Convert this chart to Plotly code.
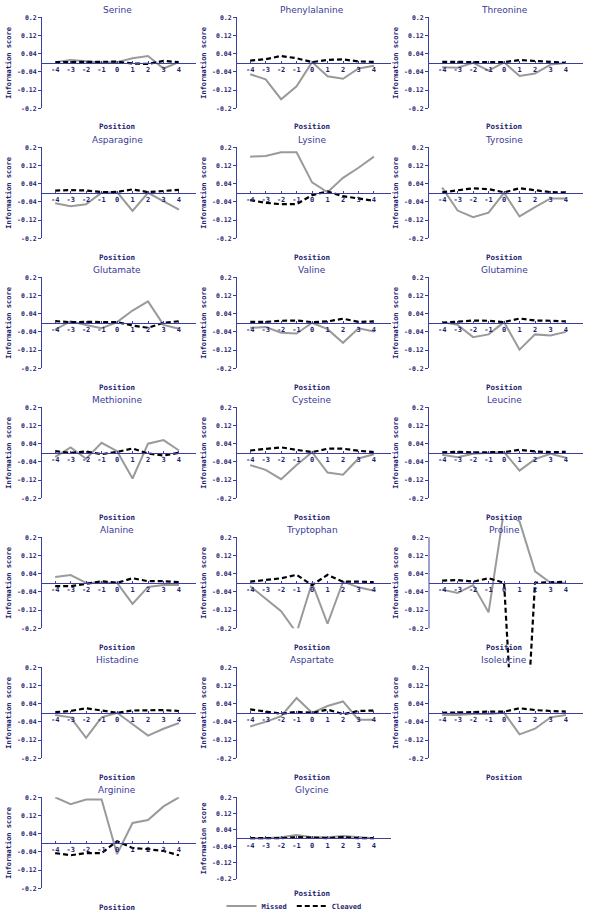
import plotly.graph_objects as go

W, H = 593, 915
positions = [-4, -3, -2, -1, 0, 1, 2, 3, 4]
y_tick_vals = [0.2, 0.12, 0.04, -0.04, -0.12, -0.2]
y_tick_text = ["0.2", "0.12", "0.04", "-0.04", "-0.12", "-0.2"]
x_tick_text = ["-4", "-3", "-2", "-1", "0", "1", "2", "3", "4"]

serine_missed = [0.003, 0.012, 0.007, 0.0, 0.003, 0.02, 0.03, -0.025, 0.003]
serine_cleaved = [0.003, 0.003, 0.002, 0.002, 0.005, -0.003, -0.005, 0.008, 0.003]
phenylalanine_missed = [-0.05, -0.073, -0.16, -0.103, 0.003, -0.059, -0.07, -0.025, -0.013]
phenylalanine_cleaved = [0.01, 0.016, 0.03, 0.02, 0.003, 0.013, 0.015, 0.006, 0.004]
threonine_missed = [-0.02, -0.022, 0.0, -0.034, 0.002, -0.058, -0.047, -0.008, -0.001]
threonine_cleaved = [0.004, 0.004, 0.003, 0.006, 0.003, 0.012, 0.009, 0.004, 0.0]
asparagine_missed = [-0.046, -0.059, -0.05, 0.0, 0.003, -0.08, 0.0, -0.037, -0.074]
asparagine_cleaved = [0.01, 0.012, 0.01, 0.003, 0.004, 0.015, 0.003, 0.007, 0.013]
lysine_missed = [0.159, 0.162, 0.178, 0.178, 0.046, 0.002, 0.066, 0.11, 0.159]
lysine_cleaved = [-0.032, -0.044, -0.05, -0.05, -0.01, 0.006, -0.015, -0.026, -0.035]
tyrosine_missed = [0.023, -0.078, -0.107, -0.087, 0.0, -0.104, -0.063, -0.025, -0.025]
tyrosine_cleaved = [0.002, 0.012, 0.02, 0.016, 0.002, 0.02, 0.012, 0.003, 0.002]
glutamate_missed = [-0.03, 0.007, -0.01, -0.024, 0.003, 0.054, 0.094, -0.009, -0.026]
glutamate_cleaved = [0.007, 0.003, 0.004, 0.004, 0.003, -0.012, -0.022, 0.0, 0.007]
valine_missed = [-0.022, -0.019, -0.044, -0.047, 0.0, -0.028, -0.088, -0.024, -0.038]
valine_cleaved = [0.004, 0.004, 0.009, 0.01, 0.003, 0.006, 0.018, 0.004, 0.006]
glutamine_missed = [0.003, -0.009, -0.063, -0.051, 0.003, -0.118, -0.051, -0.056, -0.04]
glutamine_cleaved = [0.0, 0.004, 0.01, 0.009, 0.003, 0.019, 0.01, 0.009, 0.006]
methionine_missed = [-0.018, 0.024, -0.026, 0.044, 0.007, -0.113, 0.04, 0.056, 0.01]
methionine_cleaved = [0.007, 0.0, 0.006, -0.006, 0.004, 0.019, -0.003, -0.012, 0.0]
cysteine_missed = [-0.054, -0.075, -0.116, -0.054, 0.003, -0.087, -0.096, -0.025, -0.006]
cysteine_cleaved = [0.01, 0.016, 0.024, 0.013, 0.003, 0.018, 0.018, 0.009, 0.003]
leucine_missed = [-0.009, -0.019, -0.004, -0.001, 0.003, -0.078, -0.028, -0.004, -0.022]
leucine_cleaved = [0.002, 0.004, 0.002, 0.002, 0.003, 0.013, 0.006, 0.003, 0.004]
alanine_missed = [0.025, 0.034, 0.0, 0.0, 0.0, -0.093, -0.018, -0.01, -0.01]
alanine_cleaved = [-0.015, -0.015, -0.005, 0.007, 0.0, 0.02, 0.007, 0.007, 0.003]
tryptophan_missed = [-0.015, -0.07, -0.125, -0.22, 0.0, -0.18, 0.005, -0.02, -0.035]
tryptophan_cleaved = [0.005, 0.012, 0.02, 0.035, -0.01, 0.035, 0.005, 0.005, 0.003]
proline_missed = [-0.03, -0.045, -0.01, -0.13, 0.32, 0.27, 0.05, 0.0, 0.0]
proline_cleaved = [0.01, 0.012, 0.005, 0.02, 0.0, -1.2, 0.0, 0.003, 0.005]
histadine_missed = [-0.01, -0.02, -0.11, -0.02, 0.0, -0.05, -0.1, -0.07, -0.045]
histadine_cleaved = [0.003, 0.008, 0.02, 0.01, 0.0, 0.01, 0.012, 0.012, 0.008]
aspartate_missed = [-0.06, -0.04, -0.015, 0.065, 0.0, 0.03, 0.05, -0.03, -0.03]
aspartate_cleaved = [0.015, 0.006, -0.004, 0.004, 0.0, 0.014, -0.006, 0.008, 0.01]
isoleucine_missed = [-0.01, -0.01, -0.005, -0.005, 0.0, -0.095, -0.07, -0.02, -0.01]
isoleucine_cleaved = [0.0, 0.003, 0.003, 0.005, 0.005, 0.02, 0.012, 0.008, 0.005]
arginine_missed = [0.2, 0.17, 0.19, 0.19, -0.05, 0.087, 0.1, 0.16, 0.2]
arginine_cleaved = [-0.045, -0.055, -0.045, -0.045, 0.007, -0.023, -0.028, -0.036, -0.055]
glycine_missed = [0.0, 0.0, 0.005, 0.015, 0.005, 0.005, 0.01, 0.005, 0.0]
glycine_cleaved = [0.0, 0.0, 0.0, 0.005, 0.003, 0.0, 0.005, 0.0, 0.0]

panels = [
    ("Serine", serine_missed, serine_cleaved),
    ("Phenylalanine", phenylalanine_missed, phenylalanine_cleaved),
    ("Threonine", threonine_missed, threonine_cleaved),
    ("Asparagine", asparagine_missed, asparagine_cleaved),
    ("Lysine", lysine_missed, lysine_cleaved),
    ("Tyrosine", tyrosine_missed, tyrosine_cleaved),
    ("Glutamate", glutamate_missed, glutamate_cleaved),
    ("Valine", valine_missed, valine_cleaved),
    ("Glutamine", glutamine_missed, glutamine_cleaved),
    ("Methionine", methionine_missed, methionine_cleaved),
    ("Cysteine", cysteine_missed, cysteine_cleaved),
    ("Leucine", leucine_missed, leucine_cleaved),
    ("Alanine", alanine_missed, alanine_cleaved),
    ("Tryptophan", tryptophan_missed, tryptophan_cleaved),
    ("Proline", proline_missed, proline_cleaved),
    ("Histadine", histadine_missed, histadine_cleaved),
    ("Aspartate", aspartate_missed, aspartate_cleaved),
    ("Isoleucine", isoleucine_missed, isoleucine_cleaved),
    ("Arginine", arginine_missed, arginine_cleaved),
    ("Glycine", glycine_missed, glycine_cleaved),
]

AXIS_COLOR = "#3e3ea0"
LABEL_COLOR = "#1e1e6e"
TITLE_COLOR = "#3a3a98"
MONO = "DejaVu Sans Mono"
SANS = "DejaVu Sans"
MISSED_COLOR = "#9a9a9a"
CLEAVED_COLOR = "#000000"

X_RANGE = [-4.85, 5.1]
col_left = [42, 237, 429]
plot_w = 154

fig = go.Figure()
layout = {}
annotations = []
shapes = []


def px_x(p):
    return p / W


def px_y(p):
    return 1 - p / H


for i, (name, missed, cleaved) in enumerate(panels):
    r, c = divmod(i, 3)
    n = i + 1
    sfx = "" if n == 1 else str(n)
    top = 17.3 + 130 * r
    bot = 108.3 + 130 * r
    pos_label_y = 127 + 130 * r
    if name == "Glycine":
        bot = 879.0
        pos_label_y = 893
    zero_py = (top + bot) / 2
    left = col_left[c]
    right = left + plot_w

    y_dom_top, y_dom_bot = top, bot
    y_range = [-0.2, 0.2]
    show_yline = True
    if name == "Proline":
        # taller box so the extreme values spill past the axis, as in the original
        scale = (bot - top) / 0.4
        y_dom_top, y_dom_bot = 520.0, 680.0
        y_range = [-0.2 - (y_dom_bot - bot) / scale, 0.2 + (top - y_dom_top) / scale]
        show_yline = False
        shapes.append(dict(type="line", xref="paper", yref="y" + sfx,
                           x0=px_x(left), x1=px_x(left), y0=-0.2, y1=0.2,
                           line=dict(color=AXIS_COLOR, width=1)))

    layout["xaxis" + sfx] = dict(
        domain=[px_x(left), px_x(right)], range=X_RANGE, anchor="free",
        position=px_y(zero_py), showline=True, linecolor=AXIS_COLOR, linewidth=1,
        tickmode="array", tickvals=positions, ticktext=x_tick_text,
        ticks="inside", ticklen=2, tickcolor=AXIS_COLOR,
        tickfont=dict(family=MONO, size=7, color=LABEL_COLOR, weight="bold"),
        showgrid=False, zeroline=False, fixedrange=True,
    )
    layout["yaxis" + sfx] = dict(
        domain=[px_y(y_dom_bot), px_y(y_dom_top)], range=y_range, anchor="x" + sfx,
        showline=show_yline, linecolor=AXIS_COLOR, linewidth=1,
        tickmode="array", tickvals=y_tick_vals, ticktext=y_tick_text,
        ticks="outside", ticklen=3, tickcolor=AXIS_COLOR,
        tickfont=dict(family=MONO, size=6.5, color=LABEL_COLOR, weight="bold"),
        showgrid=False, zeroline=False, fixedrange=True,
    )

    xa, ya = "x" + sfx, "y" + sfx
    fig.add_trace(go.Scatter(
        x=positions, y=missed, mode="lines", name="Missed",
        line=dict(color=MISSED_COLOR, width=2), xaxis=xa, yaxis=ya,
        showlegend=(i == 0), legendgroup="missed", hoverinfo="skip"))
    fig.add_trace(go.Scatter(
        x=positions, y=cleaved, mode="lines", name="Cleaved",
        line=dict(color=CLEAVED_COLOR, width=2.2, dash="5px,3px"), xaxis=xa, yaxis=ya,
        showlegend=(i == 0), legendgroup="cleaved", hoverinfo="skip"))

    annotations.append(dict(
        text=name, xref=xa, yref="paper",
        x=0, y=px_y(top - 7), xanchor="center", yanchor="middle", showarrow=False,
        font=dict(family=SANS, size=9, color=TITLE_COLOR)))
    annotations.append(dict(
        text="Position", xref=xa, yref="paper",
        x=0, y=px_y(pos_label_y), xanchor="center", yanchor="middle", showarrow=False,
        font=dict(family=MONO, size=7.5, color=LABEL_COLOR, weight="bold")))
    annotations.append(dict(
        text="Information score", xref="paper", yref="paper",
        x=px_x(left - 33), y=px_y(zero_py), xanchor="center", yanchor="middle",
        textangle=-90, showarrow=False,
        font=dict(family=MONO, size=7, color=LABEL_COLOR, weight="bold")))

fig.update_layout(
    width=W, height=H, margin=dict(l=0, r=0, t=0, b=0, autoexpand=False),
    paper_bgcolor="white", plot_bgcolor="white",
    annotations=annotations, shapes=shapes,
    showlegend=True,
    legend=dict(orientation="h", x=px_x(294), xanchor="center",
                yref="container", y=px_y(906), yanchor="middle",
                itemwidth=30, bgcolor="rgba(0,0,0,0)",
                font=dict(family=MONO, size=7, color=LABEL_COLOR, weight="bold"),
                traceorder="normal", tracegroupgap=0),
    **layout,
)

fig.write_html("out.html", config={"displayModeBar": False},
               post_script="document.body.style.margin='0px';")
